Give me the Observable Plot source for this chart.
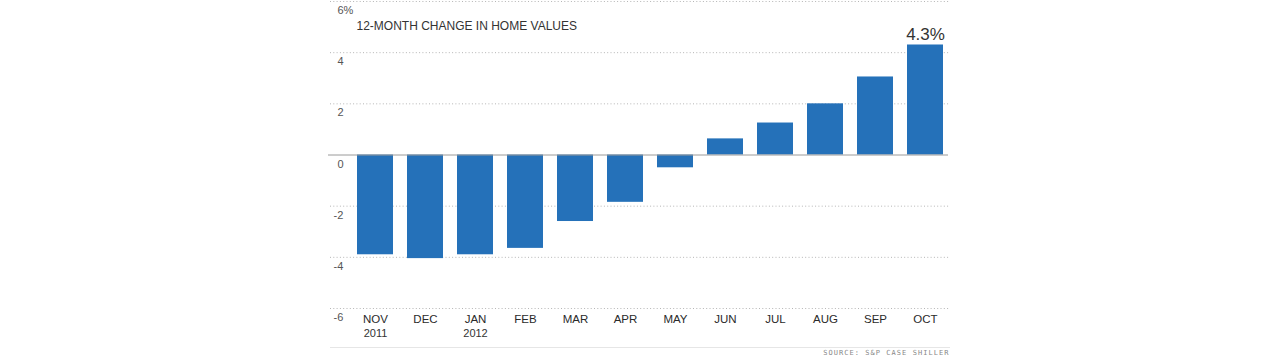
<!DOCTYPE html>
<html>
<head>
<meta charset="utf-8">
<script src="https://cdn.jsdelivr.net/npm/d3@7"></script>
<script src="https://cdn.jsdelivr.net/npm/@observablehq/plot@0.6"></script>
<style>
  html, body { margin: 0; padding: 0; background: #fff; }
  #chart svg { display: block; }
</style>
</head>
<body>
<div id="chart"></div>
<script>
const months = ["NOV","DEC","JAN","FEB","MAR","APR","MAY","JUN","JUL","AUG","SEP","OCT"];
const years  = ["2011","","2012","","","","","","","","",""];
const values = [-3.9, -4.05, -3.9, -3.65, -2.6, -1.85, -0.5, 0.63, 1.25, 2.0, 3.05, 4.3];
const yTicks = [-6, -4, -2, 0, 2, 4, 6];
const yTickLabels = ["-6", "-4", "-2", "0", "2", "4", "6%"];
const title = "12-MONTH CHANGE IN HOME VALUES";
const callout = "4.3%";
const source = "SOURCE: S&P CASE SHILLER";

const data = months.map((m, i) => ({month: m, year: years[i], value: values[i]}));
const tickData = yTicks.map((t, i) => ({t, label: yTickLabels[i]}));
const font = "'Liberation Sans', Arial, Helvetica, sans-serif";

const chart = Plot.plot({
  width: 1280,
  height: 355,
  marginTop: 1,
  marginBottom: 47,
  marginLeft: 330,
  marginRight: 330,
  style: {fontFamily: font, background: "#fff"},
  x: {type: "band", domain: months, range: [350, 950], paddingInner: 0.28, paddingOuter: 0.14, axis: null},
  y: {domain: [-6, 6], axis: null},
  marks: [
    Plot.ruleY(yTicks.filter(t => t !== 0), {stroke: "#b5b5b5", strokeDasharray: "1,2.3"}),
    Plot.barY(data, {x: "month", y: "value", fill: "#2571b9"}),
    Plot.ruleY([0], {stroke: "#9a9a9a", dx: -2}),
    Plot.ruleY([-6], {dy: 39, stroke: "#e6e6e6"}),
    Plot.text(tickData.filter(d => d.t >= 0), {
      y: "t", text: "label", frameAnchor: "left", textAnchor: "start",
      dx: 7, dy: 9, fontSize: 11, fill: "#555"
    }),
    Plot.text(tickData.filter(d => d.t < 0), {
      y: "t", text: "label", frameAnchor: "left", textAnchor: "start",
      dx: 3, dy: 9, fontSize: 11, fill: "#555"
    }),
    Plot.text(data, {
      x: "month", text: "month", frameAnchor: "bottom", lineAnchor: "top",
      dy: 6, fontSize: 11.5, fill: "#2a2a2a"
    }),
    Plot.text(data.filter(d => d.year), {
      x: "month", text: "year", frameAnchor: "bottom", lineAnchor: "top",
      dy: 21, fontSize: 11, fill: "#333"
    }),
    Plot.text([title], {
      frameAnchor: "top-left", textAnchor: "start", lineAnchor: "top",
      dx: 26, dy: 20, fontSize: 12, fill: "#333"
    }),
    Plot.text(data.slice(-1), {
      x: "month", y: "value", text: () => callout, lineAnchor: "bottom",
      dy: -5, fontSize: 17, fill: "#333"
    }),
    Plot.text([source], {
      frameAnchor: "bottom-right", textAnchor: "end", lineAnchor: "bottom",
      dx: -1, dy: 46, fontSize: 7, fill: "#888",
      fontFamily: "'DejaVu Sans Mono', monospace"
    })
  ]
});
d3.select(chart).selectAll("text")
  .filter(function() { return this.textContent === source; })
  .attr("letter-spacing", "1.05px");
document.getElementById("chart").appendChild(chart);
</script>
</body>
</html>
